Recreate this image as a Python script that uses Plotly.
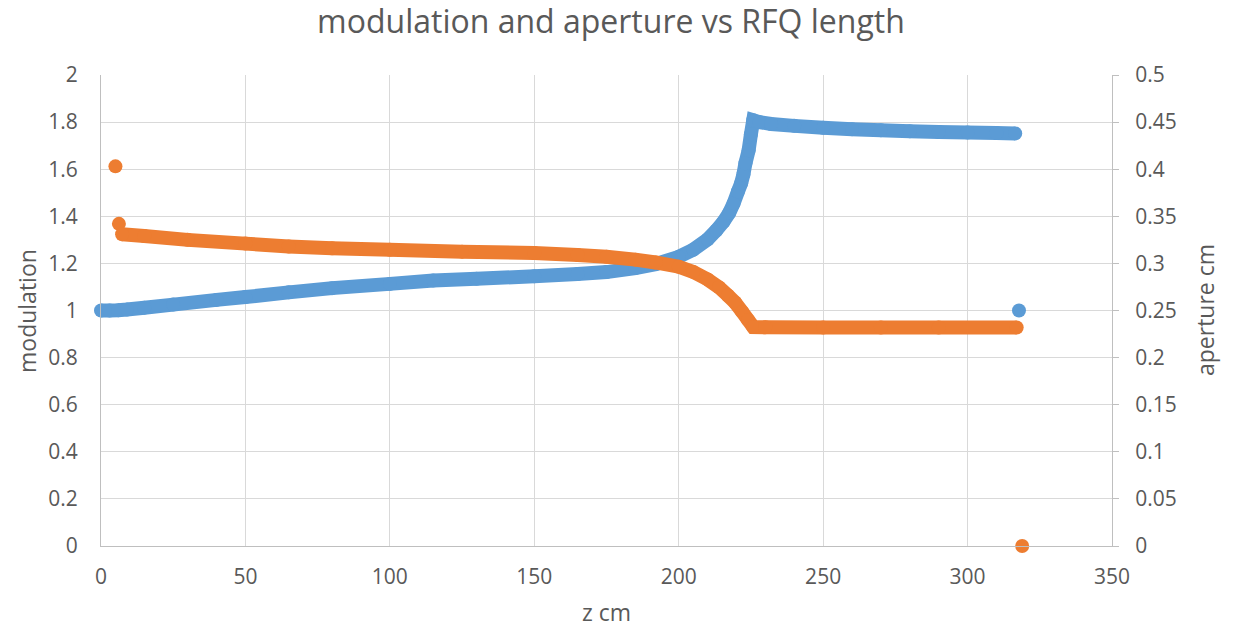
import plotly.graph_objects as go

# Modulation (left axis) along the RFQ, z in cm
z_mod = [0, 3, 6, 9, 15, 25, 40, 50, 65, 80, 100, 115, 130, 150, 165, 175, 185,
         192, 200, 205, 210, 213, 215.5, 217.5, 219, 220.5, 221.6, 222.4,
         223.1, 224.2, 225.0, 225.8, 228, 232, 240, 250, 260, 270, 280, 290,
         300, 310, 316.5]
modulation = [1.000, 1.000, 1.001, 1.004, 1.012, 1.025, 1.045, 1.057, 1.077,
              1.095, 1.113, 1.127, 1.135, 1.145, 1.155, 1.163, 1.180, 1.197,
              1.228, 1.258, 1.302, 1.340, 1.377, 1.415, 1.455, 1.505, 1.540,
              1.578, 1.625, 1.680, 1.748, 1.808, 1.800, 1.792, 1.784, 1.776,
              1.770, 1.765, 1.761, 1.758, 1.756, 1.754, 1.752]
# trailing output cell
z_mod_end = [317.8]
modulation_end = [1.0]

# Aperture (right axis) along the RFQ
z_ap_start = [5.0, 6.2]
aperture_start = [0.403, 0.342]
z_ap = [7.3, 15, 30, 50, 65, 80, 100, 125, 150, 165, 175, 185, 192, 200, 205,
        210, 214, 217, 219.5, 222, 224, 225.8, 230, 250, 270, 290, 317]
aperture = [0.331, 0.329, 0.325, 0.321, 0.318, 0.316, 0.3145, 0.3125, 0.311,
            0.309, 0.307, 0.304, 0.301, 0.2965, 0.291, 0.283, 0.2745, 0.266,
            0.2585, 0.2485, 0.240, 0.2325, 0.2322, 0.2320, 0.2320, 0.2320,
            0.2320]
z_ap_end = [318.9]
aperture_end = [0.0]

x_ticks = [0, 50, 100, 150, 200, 250, 300, 350]

BLUE = "#5B9BD5"
ORANGE = "#ED7D31"
TEXT = "#595959"
GRID = "#D9D9D9"
AXIS = "#BFBFBF"
FONT = "Open Sans"
DOT = 14

fig = go.Figure()

# modulation: dense cell markers joined into a continuous band
fig.add_trace(go.Scatter(x=z_mod, y=modulation, mode="lines+markers",
                         line=dict(color=BLUE, width=DOT, simplify=False),
                         marker=dict(color=BLUE, size=DOT),
                         cliponaxis=False, yaxis="y"))
fig.add_trace(go.Scatter(x=z_mod_end, y=modulation_end, mode="markers",
                         marker=dict(color=BLUE, size=DOT),
                         cliponaxis=False, yaxis="y"))

# aperture on the secondary axis
fig.add_trace(go.Scatter(x=z_ap_start, y=aperture_start, mode="markers",
                         marker=dict(color=ORANGE, size=DOT),
                         cliponaxis=False, yaxis="y2"))
fig.add_trace(go.Scatter(x=z_ap, y=aperture, mode="lines+markers",
                         line=dict(color=ORANGE, width=DOT, simplify=False),
                         marker=dict(color=ORANGE, size=DOT),
                         cliponaxis=False, yaxis="y2"))
fig.add_trace(go.Scatter(x=z_ap_end, y=aperture_end, mode="markers",
                         marker=dict(color=ORANGE, size=DOT),
                         cliponaxis=False, yaxis="y2"))

# plot area in pixels, used to place the axis titles
plot_l, plot_r, plot_t, plot_b = 101, 1112, 75, 546
pw, ph = plot_r - plot_l, plot_b - plot_t


def px_x(px):
    return (px - plot_l) / pw


def px_y(py):
    return (plot_b - py) / ph


TICK_SIZE = 21
AXTITLE_SIZE = 23

fig.update_layout(
    width=1238, height=627,
    margin=dict(l=plot_l, r=1238 - plot_r, t=plot_t, b=627 - plot_b),
    paper_bgcolor="white", plot_bgcolor="white",
    showlegend=False,
    font=dict(family=FONT, color=TEXT, size=TICK_SIZE),
    title=dict(text="modulation and aperture vs RFQ length",
               font=dict(family=FONT, size=32, color=TEXT),
               x=0.4935, xref="container", xanchor="center",
               y=0.966, yref="container", yanchor="middle"),
    xaxis=dict(range=[0, 350], tickvals=x_ticks, showgrid=True,
               gridcolor=GRID, gridwidth=1, showline=True, linecolor=AXIS,
               linewidth=1, zeroline=False, ticks="", ticklabelstandoff=12,
               tickfont=dict(size=TICK_SIZE, color=TEXT)),
    yaxis=dict(range=[0, 2], dtick=0.2, showgrid=True, gridcolor=GRID,
               gridwidth=1, showline=True, linecolor=AXIS, linewidth=1,
               zeroline=False, ticks="", ticklabelstandoff=18,
               tickfont=dict(size=TICK_SIZE, color=TEXT)),
    yaxis2=dict(range=[0, 0.5], dtick=0.05, overlaying="y", side="right",
                showgrid=False, showline=True, linecolor=AXIS, linewidth=1,
                zeroline=False, ticks="outside", ticklen=6, tickcolor=AXIS,
                ticklabelstandoff=12,
                tickfont=dict(size=TICK_SIZE, color=TEXT)),
    annotations=[
        dict(text="z cm", x=px_x(606), y=px_y(612), xref="paper",
             yref="paper", xanchor="center", yanchor="middle",
             showarrow=False, font=dict(size=AXTITLE_SIZE, color=TEXT)),
        dict(text="modulation", x=px_x(27), y=px_y(311), xref="paper",
             yref="paper", xanchor="center", yanchor="middle",
             showarrow=False, textangle=-90,
             font=dict(size=AXTITLE_SIZE, color=TEXT)),
        dict(text="aperture cm", x=px_x(1205), y=px_y(310), xref="paper",
             yref="paper", xanchor="center", yanchor="middle",
             showarrow=False, textangle=-90,
             font=dict(size=AXTITLE_SIZE, color=TEXT)),
    ],
)

fig.write_html("out.html")
